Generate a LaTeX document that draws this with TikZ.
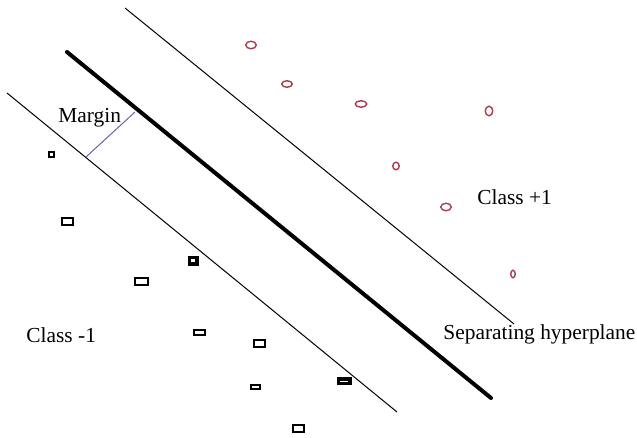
\documentclass[tikz,border=0pt]{standalone}
\usepackage{fontspec}
\setmainfont{Liberation Serif}
\usetikzlibrary{shapes.geometric}
\definecolor{ptred}{RGB}{170,60,75}
\definecolor{mgblue}{RGB}{100,100,170}
\tikzset{
  sq/.style={draw=black, line width=1pt, inner sep=0pt, rectangle},
  sqbold/.style={draw=black, line width=1.75pt, inner sep=0pt, rectangle},
  pt/.style={draw=ptred, line width=0.7pt, inner sep=0pt, ellipse},
  lbl/.style={font=\fontsize{10.7}{12}\selectfont, inner sep=0pt, anchor=base west},
  thin/.style={line width=0.5pt, draw=black},
  hyper/.style={line width=2pt, draw=black, line cap=round}
}
\begin{document}
\begin{tikzpicture}[x=0.5pt, y=-0.5pt]
\useasboundingbox (0,0) rectangle (637,438);
% lines
\coordinate (u1) at (125,8);
\coordinate (u2) at (514,324);
\coordinate (h1) at (67,52);
\coordinate (h2) at (491,398);
\coordinate (l1) at (7,93);
\coordinate (l2) at (397,412);
\draw[thin] (u1) -- (u2);
\draw[hyper] (h1) -- (h2);
\draw[thin] (l1) -- (l2);
\coordinate (m1) at (86,157);
\coordinate (m2) at (135,112);
\draw[mgblue, line width=0.5pt] (m1) -- (m2);
% labels
\node[lbl] (margin) at (58,123) {Margin};
\node[lbl] (cp) at (477,205) {Class +1};
\node[lbl] (cm) at (26,343) {Class -1};
\node[lbl] (sh) at (443,339) {Separating hyperplane};
% class -1 points
\node[sq, minimum width=2.5pt, minimum height=2.5pt] (s1) at (51,155) {};
\node[sq, minimum width=5.5pt, minimum height=3.5pt] (s2) at (67,222) {};
\node[sqbold, minimum width=3.75pt, minimum height=3.25pt] (s3) at (193,261) {};
\node[sq, minimum width=6.5pt, minimum height=3.5pt] (s4) at (141,282) {};
\node[sq, minimum width=5.5pt, minimum height=2.5pt] (s5) at (199,332) {};
\node[sq, minimum width=5.5pt, minimum height=3.5pt] (s6) at (259,343) {};
\node[sq, minimum width=4.5pt, minimum height=2pt] (s7) at (255,387) {};
\node[sqbold, minimum width=5.75pt, minimum height=2.25pt] (s8) at (344,381) {};
\node[sq, minimum width=5.5pt, minimum height=3.5pt] (s9) at (298,428) {};
% class +1 points
\node[pt, minimum width=5.25pt, minimum height=3.75pt] (c1) at (251,45) {};
\node[pt, minimum width=5.25pt, minimum height=3.25pt] (c2) at (287,84) {};
\node[pt, minimum width=5.75pt, minimum height=3.25pt] (c3) at (361,104) {};
\node[pt, minimum width=3.75pt, minimum height=4.75pt] (c4) at (489,111) {};
\node[pt, minimum width=3.25pt, minimum height=3.75pt] (c5) at (396,166) {};
\node[pt, minimum width=5.25pt, minimum height=3.75pt] (c6) at (446,207) {};
\node[pt, minimum width=2.25pt, minimum height=3.75pt] (c7) at (513,274) {};
\end{tikzpicture}
\end{document}
